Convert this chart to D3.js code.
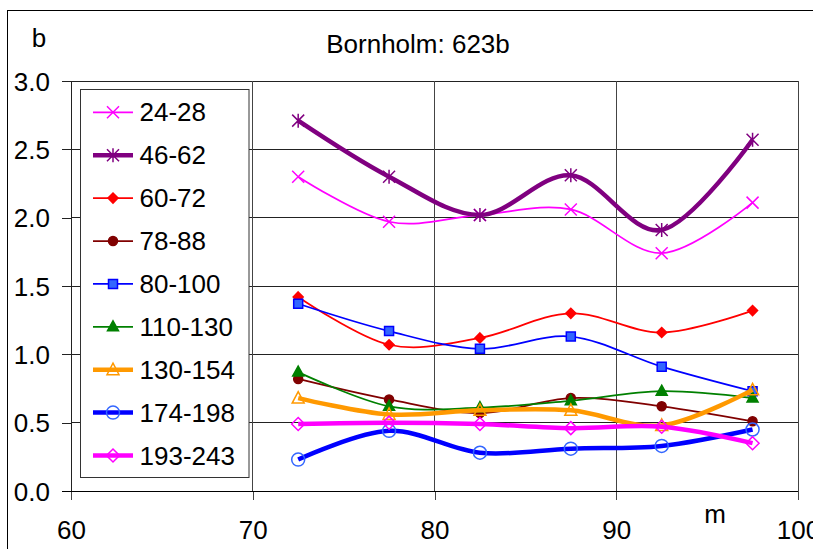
<!DOCTYPE html>
<html>
<head>
<meta charset="utf-8">
<script src="https://cdn.jsdelivr.net/npm/d3@7"></script>
<style>
  html, body { margin: 0; padding: 0; background: #fff; }
  svg { display: block; }
  text { font-family: Arial, "Liberation Sans", sans-serif; fill: #000; }
</style>
</head>
<body>
<svg id="chart" width="813" height="549"></svg>
<script>
// ---- data ----
const categories = [72.5, 77.5, 82.5, 87.5, 92.5, 97.5];
const seriesNames = ["24-28", "46-62", "60-72", "78-88", "80-100", "110-130", "130-154", "174-198", "193-243"];
const s24_28   = [2.30, 1.97, 2.02, 2.06, 1.74, 2.11];
const s46_62   = [2.71, 2.30, 2.02, 2.31, 1.91, 2.57];
const s60_72   = [1.42, 1.07, 1.12, 1.30, 1.16, 1.32];
const s78_88   = [0.82, 0.67, 0.57, 0.68, 0.62, 0.51];
const s80_100  = [1.37, 1.17, 1.04, 1.13, 0.91, 0.73];
const s110_130 = [0.87, 0.62, 0.61, 0.66, 0.73, 0.68];
const s130_154 = [0.68, 0.56, 0.59, 0.59, 0.48, 0.74];
const s174_198 = [0.23, 0.44, 0.28, 0.31, 0.33, 0.45];
const s193_243 = [0.49, 0.50, 0.49, 0.46, 0.47, 0.35];
const xTicks = [60, 70, 80, 90, 100];
const yTicks = [0, 0.5, 1.0, 1.5, 2.0, 2.5, 3.0];
const titleText = "Bornholm: 623b";
const yLabel = "b";
const xLabel = "m";

// ---- styles ----
const styles = [
  {color: "#FF00FF", width: 1.75, marker: "x",        mstroke: "#FF00FF", mfill: "none"},
  {color: "#800080", width: 4.5,  marker: "star",     mstroke: "#800080", mfill: "none"},
  {color: "#FF0000", width: 1.75, marker: "diamond",  mstroke: "#FF0000", mfill: "#FF0000"},
  {color: "#800000", width: 1.75, marker: "circle",   mstroke: "#800000", mfill: "#800000"},
  {color: "#0000FF", width: 1.75, marker: "square",   mstroke: "#0000FF", mfill: "#3366FF"},
  {color: "#008000", width: 1.75, marker: "triangle", mstroke: "#008000", mfill: "#008000"},
  {color: "#FF9900", width: 4.5,  marker: "otriangle",mstroke: "#FF9900", mfill: "none"},
  {color: "#0000FF", width: 4.5,  marker: "ocircle",  mstroke: "#3366FF", mfill: "none"},
  {color: "#FF00FF", width: 4.5,  marker: "odiamond", mstroke: "#FF00FF", mfill: "none"}
];
const seriesValues = [s24_28, s46_62, s60_72, s78_88, s80_100, s110_130, s130_154, s174_198, s193_243];

const svg = d3.select("#chart");
const FS = 26;

// outer frame (cut off at right/bottom)
svg.append("rect").attr("x", 7.5).attr("y", 10.5).attr("width", 900).attr("height", 700)
  .attr("fill", "#fff").attr("stroke", "#000").attr("stroke-width", 1);

const x = d3.scaleLinear().domain([60, 100]).range([71, 798]);
const y = d3.scaleLinear().domain([0, 3]).range([491, 81]);

// gridlines
const grid = svg.append("g").attr("shape-rendering", "crispEdges");
grid.selectAll("line.h").data(yTicks.filter(d => d > 0)).join("line")
  .attr("x1", x(60)).attr("x2", x(100)).attr("y1", d => y(d)).attr("y2", d => y(d))
  .attr("stroke", "#222").attr("stroke-width", 1);
grid.selectAll("line.v").data(xTicks.filter(d => d > 60)).join("line")
  .attr("x1", d => x(d)).attr("x2", d => x(d)).attr("y1", y(3)).attr("y2", y(0))
  .attr("stroke", "#444").attr("stroke-width", 1);

// axes
const yAxis = d3.axisLeft(y).tickValues(yTicks).tickFormat(d3.format(".1f")).tickSize(9).tickSizeOuter(0).tickPadding(12);
const gy = svg.append("g").attr("transform", `translate(${x(60)},0)`).call(yAxis);
gy.selectAll("text").style("font-size", FS + "px").attr("dy", "0.35em")
  .style("font-family", 'Arial, "Liberation Sans", sans-serif');
gy.selectAll("line, path").attr("stroke", "#222").attr("shape-rendering", "crispEdges");

const xAxis = d3.axisBottom(x).tickValues(xTicks).tickFormat(d3.format("d")).tickSize(9).tickSizeOuter(0).tickPadding(21);
const gx = svg.append("g").attr("transform", `translate(0,${y(0)})`).call(xAxis);
gx.selectAll("text").style("font-size", FS + "px")
  .style("font-family", 'Arial, "Liberation Sans", sans-serif');
gx.selectAll("line").attr("stroke", "#444").attr("shape-rendering", "crispEdges");
gx.select("path").remove();
// x axis line extending left past the y axis
svg.append("line").attr("x1", x(60) - 9).attr("x2", x(100)).attr("y1", y(0)).attr("y2", y(0))
  .attr("stroke", "#000").attr("shape-rendering", "crispEdges");

// labels
svg.append("text").attr("x", 418).attr("y", 53).attr("text-anchor", "middle")
  .style("font-size", FS + "px").text(titleText);
svg.append("text").attr("x", 39).attr("y", 47).attr("text-anchor", "middle")
  .style("font-size", FS + "px").text(yLabel);
svg.append("text").attr("x", 715).attr("y", 523).attr("text-anchor", "middle")
  .style("font-size", FS + "px").text(xLabel);

// markers
function markerPath(type) {
  switch (type) {
    case "x": return "M-6,-6L6,6M-6,6L6,-6";
    case "star": return "M-6,-6L6,6M-6,6L6,-6M0,-7L0,7";
    case "diamond": return "M0,-5L5,0L0,5L-5,0Z";
    case "odiamond": return "M0,-6.5L6.5,0L0,6.5L-6.5,0Z";
    case "square": return "M-4.5,-4.5L4.5,-4.5L4.5,4.5L-4.5,4.5Z";
    case "triangle": return "M0,-6L5.5,4L-5.5,4Z";
    case "otriangle": return "M0,-6.5L6,5L-6,5Z";
    case "circle": return d3.path().toString();
    default: return "";
  }
}
function drawMarker(g, type, st, cx, cy) {
  if (type === "circle" || type === "ocircle") {
    g.append("circle").attr("cx", cx).attr("cy", cy)
      .attr("r", type === "circle" ? 4.5 : 6.5)
      .attr("fill", st.mfill).attr("stroke", st.mstroke).attr("stroke-width", 1.5);
  } else {
    g.append("path").attr("d", markerPath(type)).attr("transform", `translate(${cx},${cy})`)
      .attr("fill", st.mfill).attr("stroke", st.mstroke).attr("stroke-width", 1.5);
  }
}

const line = d3.line().x(d => x(d[0])).y(d => y(d[1])).curve(d3.curveCatmullRom.alpha(0));

const plot = svg.append("g");
seriesValues.forEach((vals, i) => {
  const st = styles[i];
  const pts = categories.map((c, j) => [c, vals[j]]);
  const g = plot.append("g");
  g.append("path").attr("d", line(pts)).attr("fill", "none")
    .attr("stroke", st.color).attr("stroke-width", st.width).attr("stroke-linejoin", "round");
  pts.forEach(p => drawMarker(g, st.marker, st, x(p[0]), y(p[1])));
});

// legend
const lg = svg.append("g");
lg.append("rect").attr("x", 80.5).attr("y", 89.5).attr("width", 168.5).attr("height", 388)
  .attr("fill", "#fff").attr("stroke", "#333").attr("stroke-width", 1);
seriesNames.forEach((name, i) => {
  const st = styles[i];
  const cy = 112.3 + i * 42.9;
  const g = lg.append("g");
  g.append("line").attr("x1", 93).attr("x2", 133).attr("y1", cy).attr("y2", cy)
    .attr("stroke", st.color).attr("stroke-width", st.width);
  drawMarker(g, st.marker, st, 113, cy);
  g.append("text").attr("x", 139.5).attr("y", cy + 9).style("font-size", FS + "px").text(name);
});
</script>
</body>
</html>
